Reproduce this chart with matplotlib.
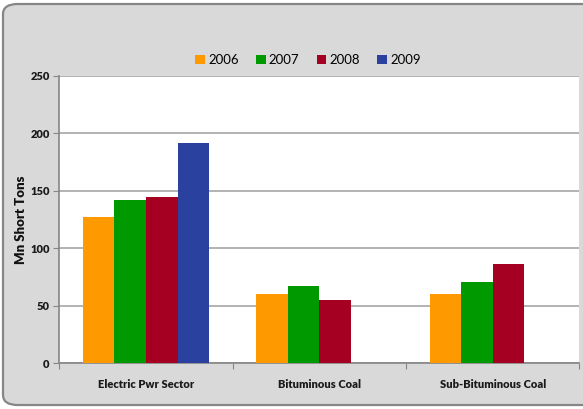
import numpy as np
import matplotlib
matplotlib.use('Agg')
import matplotlib.pyplot as plt
from matplotlib.patches import FancyBboxPatch, Patch

plt.rcParams['font.family'] = ['Lato', 'DejaVu Sans']

categories = ['Electric Pwr Sector', 'Bituminous Coal', 'Sub-Bituminous Coal']
years = ['2006', '2007', '2008', '2009']
vals_2006 = [127, 60.5, 60.5]
vals_2007 = [142.5, 67.5, 71]
vals_2008 = [145, 55.5, 86]
vals_2009 = [192, np.nan, np.nan]
series = [vals_2006, vals_2007, vals_2008, vals_2009]
colors = ['#FF9900', '#009900', '#A50021', '#2A41A0']

fig = plt.figure(figsize=(5.83, 4.09), dpi=100)
fig.patch.set_facecolor('white')

# rounded grey chart background
bg = FancyBboxPatch((3 / 583, 4 / 409), 600 / 583, 401 / 409,
                    boxstyle='round,pad=0,rounding_size=0.025',
                    transform=fig.transFigure, facecolor='#D9D9D9',
                    edgecolor='#868686', linewidth=1.6, zorder=-5)
fig.patches.append(bg)

ax = fig.add_axes([59.3 / 583, 1 - 363.3 / 409, 520 / 583, 287.3 / 409])
ax.set_facecolor('white')

x = np.arange(len(categories)) + 0.5
w = 0.182
for i, vals in enumerate(series):
    ax.bar(x + (i - 1.5) * w, vals, width=w, color=colors[i], zorder=3)

ax.set_xlim(0, 3)
ax.set_ylim(0, 250)
ax.set_yticks([0, 50, 100, 150, 200, 250])
ax.yaxis.grid(True, color='#A6A6A6', linewidth=1.2, zorder=0)
ax.set_axisbelow(True)
ax.set_xticks([0, 1, 2, 3])
ax.set_xticklabels([])
ax.set_xticks(x, minor=True)
ax.set_xticklabels(categories, minor=True, fontsize=8, fontweight='heavy', color='#1a1a1a')
ax.tick_params(axis='x', which='major', length=4, color='#868686', direction='out')
ax.tick_params(axis='x', which='minor', length=0, pad=11)
ax.tick_params(axis='y', length=4, color='#868686', labelsize=8, pad=3)
for lab in ax.get_yticklabels():
    lab.set_fontweight('heavy')
    lab.set_color('#1a1a1a')

for s in ['top', 'right']:
    ax.spines[s].set_visible(False)
ax.spines['left'].set_color('#868686')
ax.spines['bottom'].set_color('#868686')
ax.spines['left'].set_linewidth(1.2)
ax.spines['bottom'].set_linewidth(1.2)

ax.set_ylabel('Mn Short Tons', fontsize=9.5, fontweight='heavy', color='#111111', labelpad=2)

handles = [Patch(facecolor=c, label=y) for c, y in zip(colors, years)]
fig.legend(handles=handles, loc='center', bbox_to_anchor=(308 / 583, 1 - 60 / 409),
           ncol=4, frameon=False, fontsize=9.5, handlelength=0.75, handleheight=0.75,
           handletextpad=0.25, columnspacing=1.3)

fig.savefig('out.png', dpi=100)
